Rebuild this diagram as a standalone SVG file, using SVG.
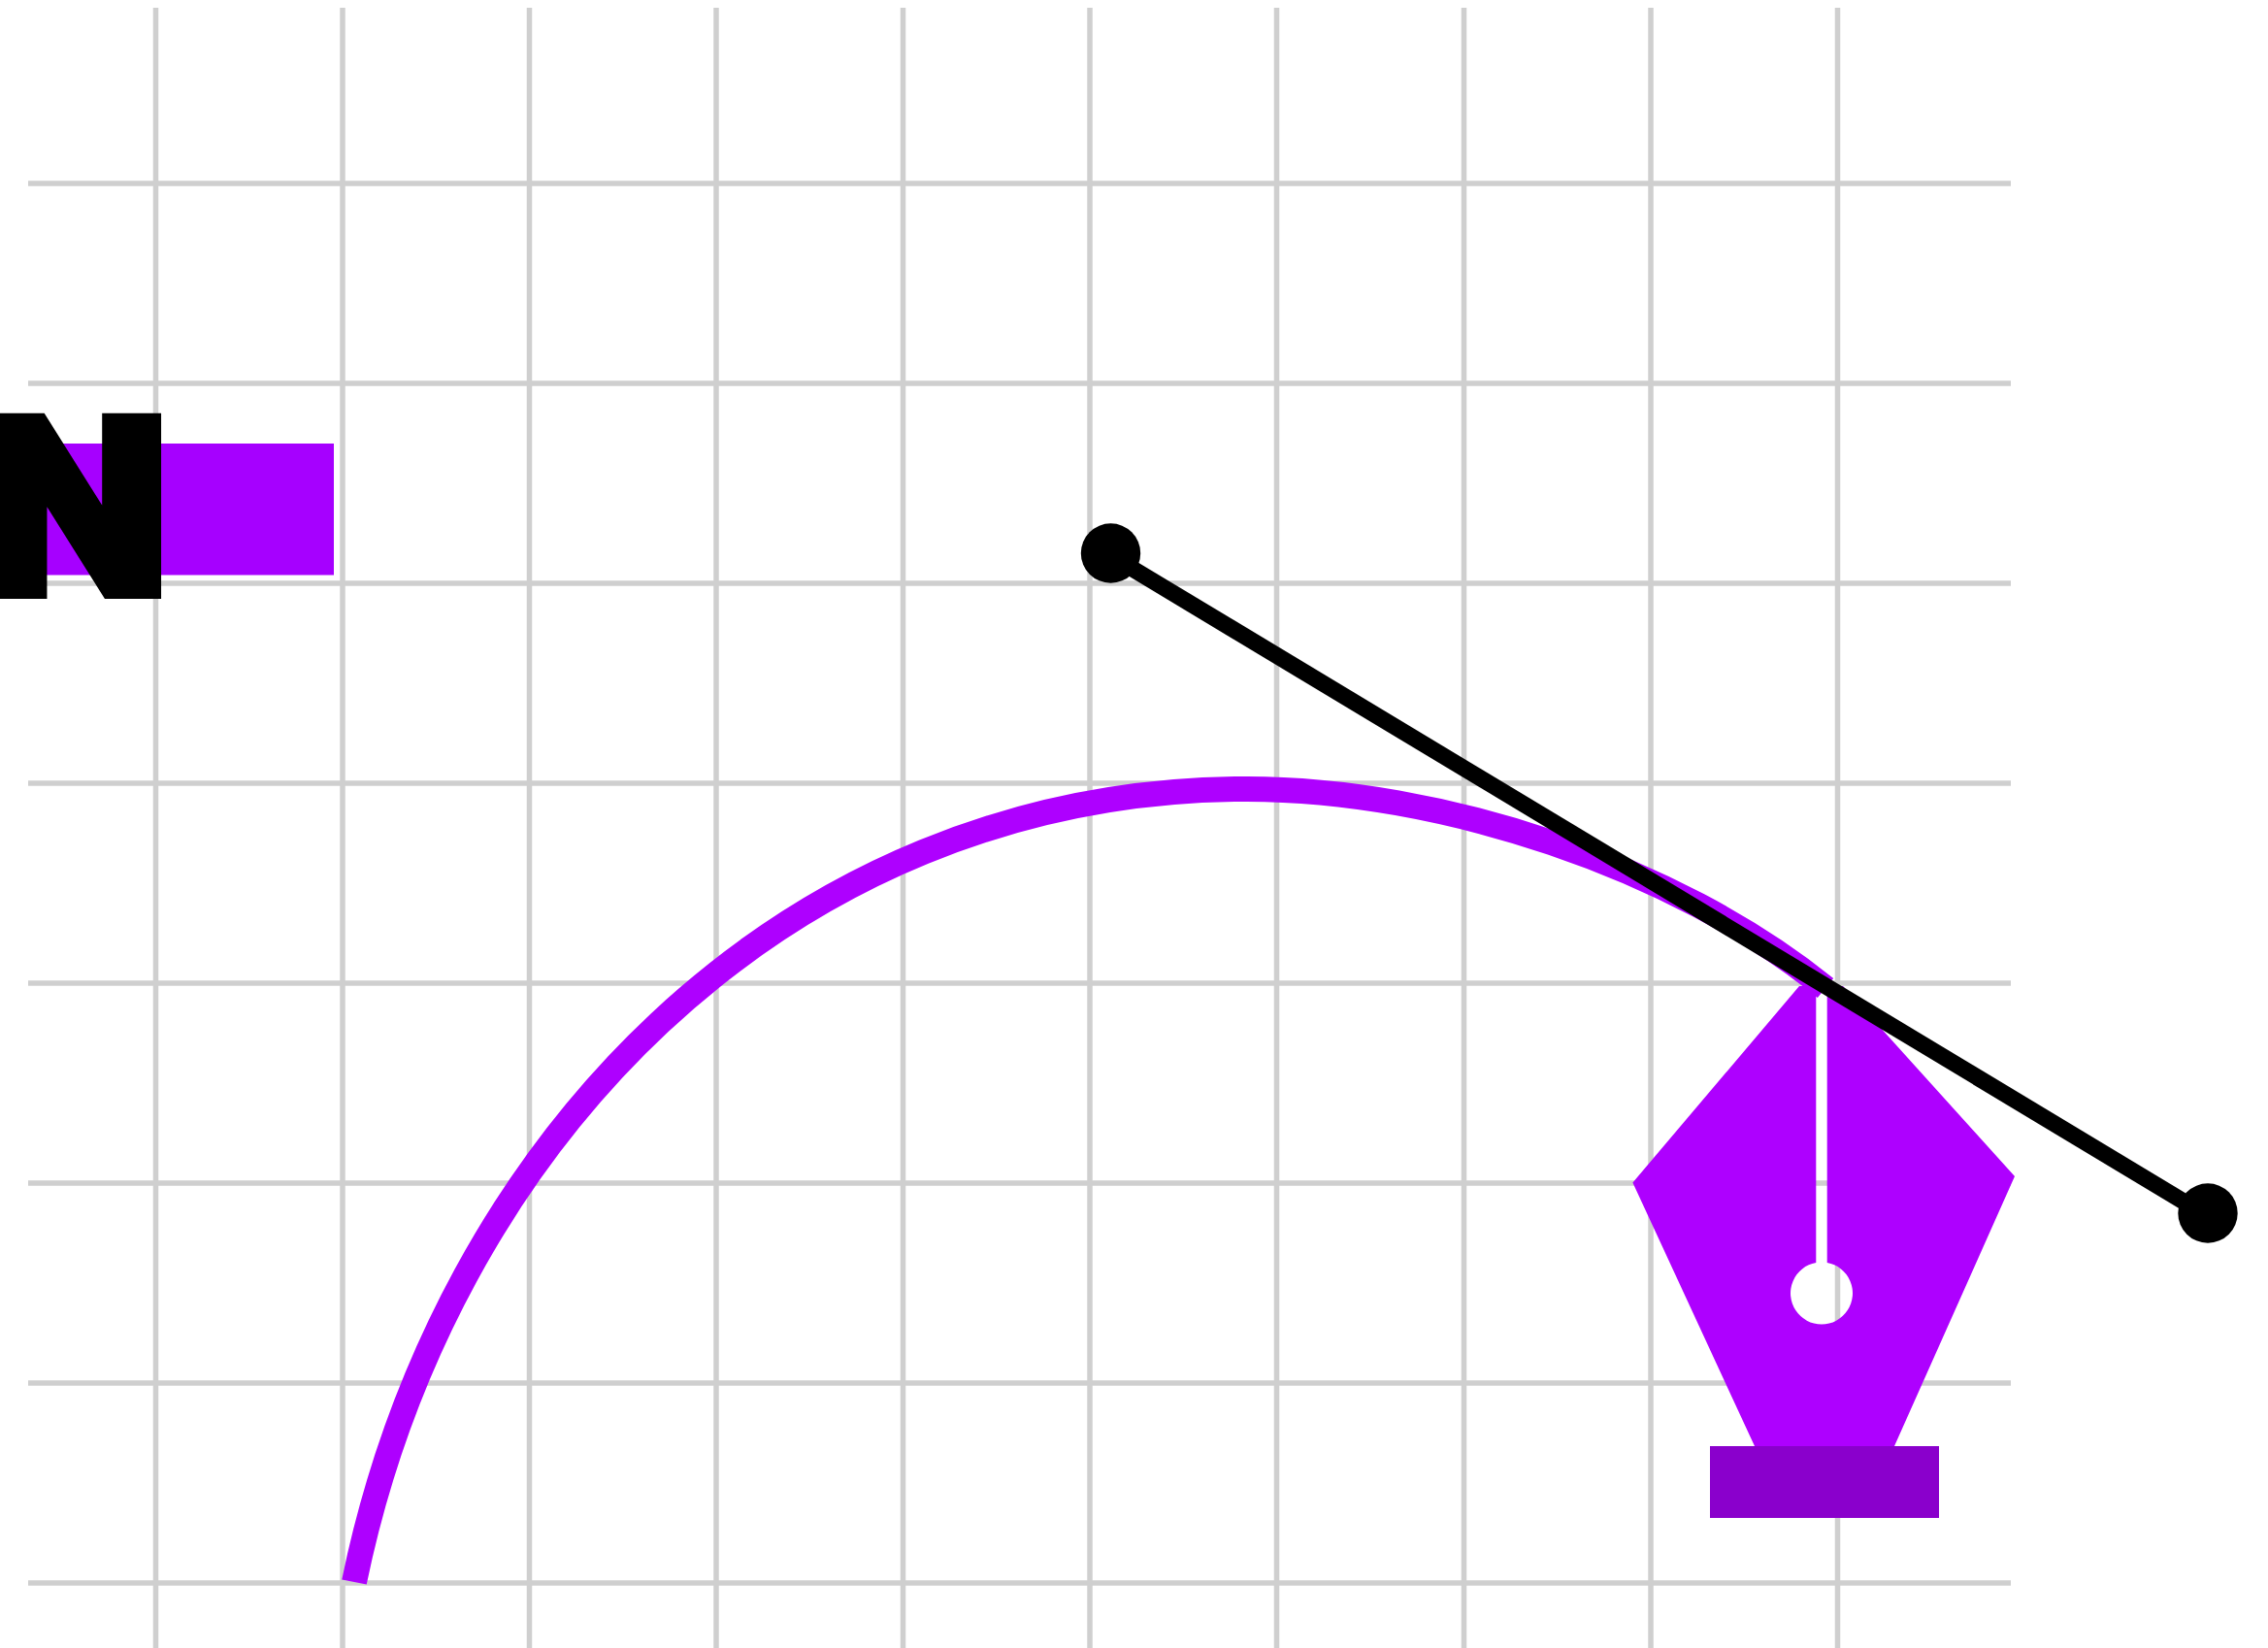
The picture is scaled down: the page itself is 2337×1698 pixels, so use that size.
<svg xmlns="http://www.w3.org/2000/svg" width="2337" height="1698" viewBox="0 0 2337 1698">
<style>
.g{stroke:#cfcfcf;stroke-width:5.500;fill:none}
.n{font-family:"Roboto","Liberation Sans",sans-serif;font-weight:900;font-size:252px;fill:#000;stroke:#000;stroke-width:12px;stroke-linejoin:miter}
</style>
<rect width="2337" height="1698" fill="#fff"/>
<g id="grid">
<path class="g" d="M160.500 8V1698M353 8V1698M545.500 8V1698M738 8V1698M930.500 8V1698M1123 8V1698M1315.500 8V1698M1508.500 8V1698M1701 8V1698M1893.500 8V1698"/>
<path class="g" d="M29 189H2072M29 395H2072M29 601H2072M29 807H2072M29 1013H2072M29 1219H2072M29 1425H2072M29 1631H2072"/>
</g>
<rect id="swatch" x="30" y="457" width="314" height="135.500" fill="#a600ff"/>
<text id="label" class="n" transform="translate(-21 611) scale(1.105 1)">N</text>
<g id="nib">
<path fill="#ae00ff" d="M1854 1016H1871.300V1301A32 32 0 1 0 1882.700 1301V1016H1899L2076 1212L1952 1490H1808L1682.400 1218.400Z"/>
<rect x="1762" y="1490" width="236" height="74" fill="#8a00cc"/>
</g>
<path id="curve" fill="none" stroke="#ae00ff" stroke-width="26" d="M365 1630C457 1183 805 813 1285 813C1483 813 1725.600 892 1881 1018"/>
<g id="connectors">
<line x1="1144.500" y1="572.500" x2="2275" y2="1253" stroke="#000" stroke-width="17"/>
<circle cx="1144.500" cy="570" r="30.700"/>
<circle cx="2275" cy="1250" r="30.700"/>
</g>
</svg>
